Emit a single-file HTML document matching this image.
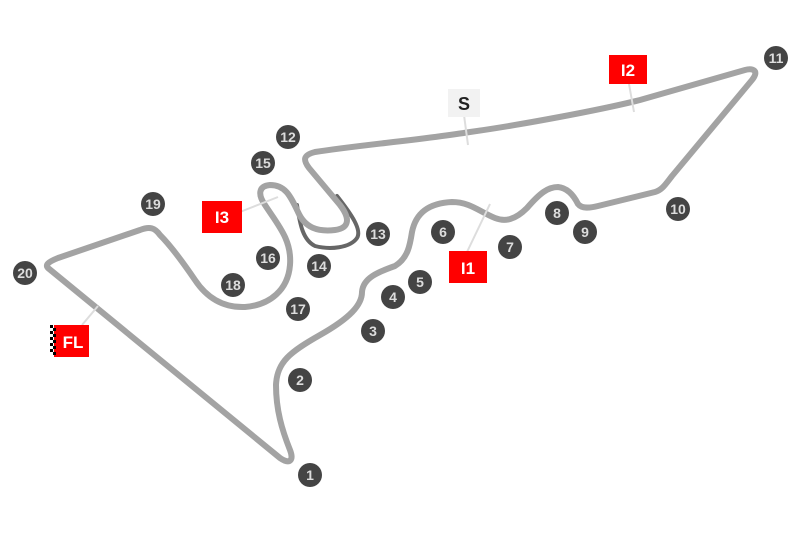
<!DOCTYPE html>
<html><head><style>
body{margin:0;width:800px;height:533px;background:#fff;overflow:hidden;font-family:"Liberation Sans",sans-serif}
</style></head><body>
<svg width="800" height="533" viewBox="0 0 800 533">
<g fill="none" stroke-linecap="round" stroke-linejoin="round">
<path d="M297,205 C300,225 303,240 315,246 C330,250 350,248 357,238 C362,230 352,215 337,196" stroke="#666" stroke-width="4"/>
<path d="M48,268 L280,458 C290,465 294,460 290,450 C282,430 276,410 276,385 C277,362 290,352 320,335 C350,318 362,305 362,292 C363,278 378,272 395,266 C408,258 410,245 412,232 C416,212 430,203 452,202 C470,202 480,212 495,218 C505,222 515,220 527,208 C540,193 548,187 558,187 C568,188 574,196 578,204 C582,209 590,208 598,206 L655,192 C662,190 665,185 672,176 L752,80 C760,70 752,68 745,70 L640,100 C600,110 520,125 470,132 C420,140 360,145 315,152 C303,155 303,160 309,168 L340,205 C350,218 350,228 335,230 C318,232 305,228 298,212 C290,195 285,185 270,185 C258,186 258,195 265,205 C278,225 292,240 290,265 C288,290 270,305 245,307 C220,308 205,295 195,280 C180,258 170,245 160,235 C155,228 150,226 140,230 L58,258 C48,262 45,265 48,268 Z" stroke="#a3a3a3" stroke-width="6"/>
</g>
<g stroke="#ddd" stroke-width="2">
<line x1="464" y1="115" x2="468" y2="145"/>
<line x1="629" y1="84" x2="634" y2="112"/>
<line x1="467" y1="252" x2="490" y2="204"/>
<line x1="240" y1="212" x2="278" y2="197"/>
<line x1="82" y1="325" x2="98" y2="306"/>
</g>
<g font-weight="bold" font-size="14" text-anchor="middle" fill="#ddd">
<g fill="#444"><circle cx="310" cy="475" r="12"/><circle cx="300" cy="380" r="12"/><circle cx="373" cy="331" r="12"/><circle cx="393" cy="297" r="12"/><circle cx="420" cy="282" r="12"/><circle cx="443" cy="232" r="12"/><circle cx="510" cy="247" r="12"/><circle cx="557" cy="213" r="12"/><circle cx="585" cy="232" r="12"/><circle cx="678" cy="209" r="12"/><circle cx="776" cy="58" r="12"/><circle cx="288" cy="137" r="12"/><circle cx="378" cy="234" r="12"/><circle cx="319" cy="266" r="12"/><circle cx="263" cy="163" r="12"/><circle cx="268" cy="258" r="12"/><circle cx="298" cy="309" r="12"/><circle cx="233" cy="285" r="12"/><circle cx="153" cy="204" r="12"/><circle cx="25" cy="273" r="12"/></g>
<text x="310" y="480">1</text><text x="300" y="385">2</text><text x="373" y="336">3</text><text x="393" y="302">4</text><text x="420" y="287">5</text><text x="443" y="237">6</text><text x="510" y="252">7</text><text x="557" y="218">8</text><text x="585" y="237">9</text><text x="678" y="214">10</text><text x="776" y="63">11</text><text x="288" y="142">12</text><text x="378" y="239">13</text><text x="319" y="271">14</text><text x="263" y="168">15</text><text x="268" y="263">16</text><text x="298" y="314">17</text><text x="233" y="290">18</text><text x="153" y="209">19</text><text x="25" y="278">20</text>
</g>
<rect x="448" y="89" width="32" height="28" fill="#f2f2f2"/>
<text x="464" y="110" font-size="18" font-weight="bold" text-anchor="middle" fill="#222">S</text>
<g fill="#f00"><rect x="609" y="55" width="38" height="29"/><rect x="449" y="251" width="38" height="32"/><rect x="202" y="201" width="40" height="32"/><rect x="54" y="325" width="35" height="32"/></g>
<g fill="#fff" font-size="17" font-weight="bold" text-anchor="middle">
<text x="628" y="76">I2</text><text x="468" y="274">I1</text><text x="222" y="223">I3</text><text x="73" y="348">FL</text></g>
<g fill="#000"><rect x="50" y="325" width="3" height="3"/><rect x="53" y="328" width="3" height="3"/><rect x="50" y="331" width="3" height="3"/><rect x="53" y="334" width="3" height="3"/><rect x="50" y="337" width="3" height="3"/><rect x="53" y="340" width="3" height="3"/><rect x="50" y="343" width="3" height="3"/><rect x="53" y="346" width="3" height="3"/><rect x="50" y="349" width="3" height="3"/><rect x="53" y="352" width="3" height="3"/></g>
</svg>
</body></html>
